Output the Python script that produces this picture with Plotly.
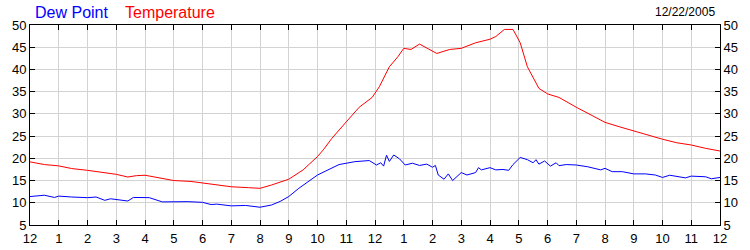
import plotly.graph_objects as go

# Hours since midnight
temp_hours = [0, 0.5, 1, 1.45, 2, 2.6, 3, 3.4, 3.7, 4, 4.45, 5, 5.6, 6, 6.5, 7, 7.6, 8, 8.4, 8.7,
              9, 9.5, 10, 10.2, 10.5, 11, 11.45, 11.9, 12.15, 12.5, 12.8, 13, 13.25, 13.55, 13.8,
              14.15, 14.6, 15, 15.5, 16, 16.2, 16.5, 16.8, 17.05, 17.3, 17.5, 17.7, 18, 18.4, 19,
              19.7, 20, 20.5, 21, 21.5, 22, 22.5, 23, 23.5, 24]
temperature = [19.2, 18.6, 18.3, 17.7, 17.3, 16.8, 16.4, 15.8, 16.1, 16.2, 15.7, 15.0, 14.8, 14.5,
               14.1, 13.6, 13.4, 13.25, 14.0, 14.6, 15.3, 17.4, 20.4, 21.9, 24.5, 28.2, 31.5, 33.7,
               36.1, 40.6, 42.9, 44.75, 44.5, 45.7, 44.75, 43.6, 44.5, 44.75, 46.0, 46.8, 47.4, 49.0,
               49.0, 46.0, 40.6, 38.0, 35.75, 34.5, 33.7, 31.5, 29.2, 28.1, 27.1, 26.15, 25.25, 24.3,
               23.5, 23.0, 22.25, 21.65]

dew_hours = [0, 0.5, 0.85, 1, 1.45, 2, 2.3, 2.6, 2.8, 3.1, 3.4, 3.6, 4.15, 4.6, 5, 5.5, 6, 6.3, 6.5,
             7, 7.5, 8, 8.4, 8.7, 9, 9.35, 10, 10.4, 10.75, 11.3, 11.8, 12.05, 12.2, 12.3, 12.4, 12.5,
             12.65, 12.85, 13.05, 13.3, 13.55, 13.8, 14.0, 14.1, 14.2, 14.4, 14.55, 14.7, 15, 15.2,
             15.5, 15.6, 15.7, 16, 16.2, 16.45, 16.65, 16.8, 17.05, 17.3, 17.5, 17.6, 17.7, 17.9,
             18.1, 18.3, 18.4, 18.65, 19, 19.4, 19.85, 20, 20.25, 20.6, 21, 21.4, 21.75, 22, 22.25,
             22.8, 23, 23.5, 23.7, 24]
dew_point = [11.4, 11.7, 11.2, 11.5, 11.3, 11.15, 11.3, 10.55, 10.9, 10.7, 10.4, 11.2, 11.15, 10.2,
             10.25, 10.25, 10.1, 9.6, 9.7, 9.3, 9.4, 9.0, 9.5, 10.3, 11.4, 13.25, 16.25, 17.5, 18.6,
             19.25, 19.5, 18.5, 19.0, 18.25, 20.7, 19.3, 20.75, 19.9, 18.5, 18.9, 18.4, 18.7, 18.0,
             18.4, 16.25, 15.3, 16.5, 15.0, 16.8, 16.25, 16.8, 17.9, 17.4, 17.9, 17.4, 17.5, 17.3,
             18.6, 20.2, 19.7, 19.0, 19.7, 18.7, 19.4, 18.25, 19.0, 18.35, 18.6, 18.5, 18.1, 17.4,
             17.75, 17.0, 17.0, 16.5, 16.5, 16.25, 15.7, 16.2, 15.6, 16.0, 15.85, 15.4, 15.7]

x_tickvals = list(range(0, 25))
x_ticktext = ["12", "1", "2", "3", "4", "5", "6", "7", "8", "9", "10", "11",
              "12", "1", "2", "3", "4", "5", "6", "7", "8", "9", "10", "11", "12"]
y_tickvals = [5, 10, 15, 20, 25, 30, 35, 40, 45, 50]
date_label = "12/22/2005"

FONT = "Liberation Sans, Arial, sans-serif"

fig = go.Figure()
fig.add_trace(go.Scatter(x=dew_hours, y=dew_point, mode="lines", name="Dew Point",
                         line=dict(color="#0000ff", width=1), yaxis="y"))
fig.add_trace(go.Scatter(x=temp_hours, y=temperature, mode="lines", name="Temperature",
                         line=dict(color="#ff0000", width=1), yaxis="y2"))

axis_common = dict(showline=True, linecolor="black", linewidth=1, ticks="inside", ticklen=5,
                   tickcolor="black", tickfont=dict(family=FONT, size=13, color="black"),
                   zeroline=False, automargin=False)

fig.update_layout(
    width=750, height=250,
    margin=dict(l=30, r=30, t=25, b=25),
    paper_bgcolor="white", plot_bgcolor="white",
    showlegend=False,
    xaxis=dict(range=[0, 24], tickvals=x_tickvals, ticktext=x_ticktext, mirror="ticks",
               showgrid=True, gridcolor="#d3d3d3", gridwidth=1, ticklabelstandoff=1,
               **axis_common),
    yaxis=dict(range=[5, 50], tickvals=y_tickvals, mirror="ticks", showgrid=True,
               gridcolor="#d3d3d3", gridwidth=1, **axis_common),
    yaxis2=dict(range=[5, 50], tickvals=y_tickvals, overlaying="y", side="right",
                showgrid=False, **axis_common),
    annotations=[
        dict(text="Dew Point", xref="paper", yref="paper", x=3 / 690, y=1 + (25 - 12.5) / 200,
             xanchor="left", yanchor="middle", showarrow=False,
             font=dict(family=FONT, size=16, color="#0000ff")),
        dict(text="Temperature", xref="paper", yref="paper", x=93 / 690, y=1 + (25 - 12.5) / 200,
             xanchor="left", yanchor="middle", showarrow=False,
             font=dict(family=FONT, size=16, color="#ff0000")),
        dict(text=date_label, xref="paper", yref="paper", x=687 / 690, y=1 + (25 - 12) / 200,
             xanchor="right", yanchor="middle", showarrow=False,
             font=dict(family=FONT, size=12, color="black")),
    ],
)

fig.write_html("out.html")
